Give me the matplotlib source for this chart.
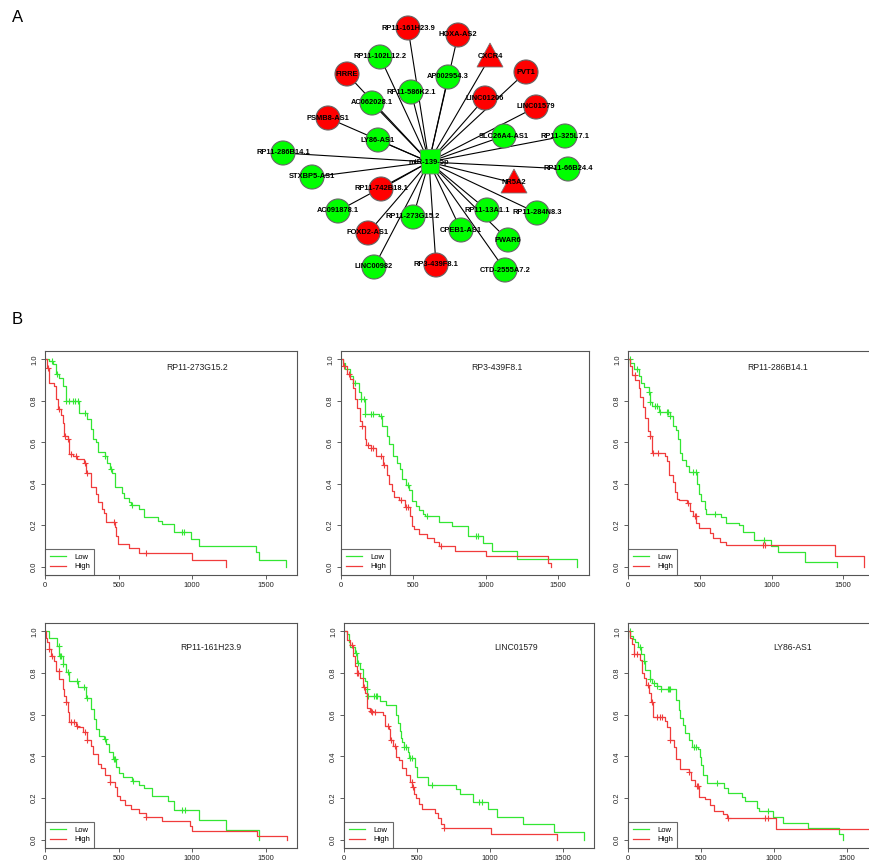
import matplotlib
matplotlib.use('Agg')
import matplotlib.pyplot as plt
import numpy as np
from matplotlib.patches import Circle, Polygon

plt.rcParams['font.family'] = ['Liberation Sans', 'DejaVu Sans']

# ---------------- network (A) ----------------
hub_name = 'miR-139-5p'
hub_xy = (429, 162)
node_names = ['RP11-161H23.9', 'HOXA-AS2', 'CXCR4', 'RP11-102L12.2', 'FIRRE', 'AP002954.3',
              'PVT1', 'RP11-586K2.1', 'LINC01206', 'AC062028.1', 'LINC01579', 'PSMB8-AS1',
              'LY86-AS1', 'SLC26A4-AS1', 'RP11-325L7.1', 'RP11-286B14.1', 'STXBP5-AS1',
              'RP11-66B24.4', 'NR5A2', 'RP11-742B18.1', 'AC091878.1', 'RP11-273G15.2',
              'RP11-13A1.1', 'RP11-284N8.3', 'FOXD2-AS1', 'CPEB1-AS1', 'PWAR6', 'LINC00982',
              'RP3-439F8.1', 'CTD-2555A7.2']
node_x = [408, 458, 490, 380, 347, 448, 526, 411, 485, 372, 536, 328, 378, 504, 565,
          283, 312, 568, 514, 381, 338, 413, 487, 537, 368, 461, 508, 374, 436, 505]
node_y = [28, 35, 57, 57, 74, 77, 72, 92, 98, 103, 107, 118, 140, 136, 136,
          153, 177, 169, 183, 189, 211, 217, 210, 213, 233, 230, 240, 267, 265, 270]
node_up = ['up', 'up', 'up', 'down', 'up', 'down', 'up', 'down', 'up', 'down', 'up', 'up',
           'down', 'down', 'down', 'down', 'down', 'down', 'up', 'up', 'down', 'down',
           'down', 'down', 'up', 'down', 'down', 'down', 'up', 'down']
gene_nodes = ['CXCR4', 'NR5A2']

# ---------------- survival curves (B) ----------------
titles = ['RP11-273G15.2', 'RP3-439F8.1', 'RP11-286B14.1',
          'RP11-161H23.9', 'LINC01579', 'LY86-AS1']

# panel 1
p1_low_t = [29, 52, 75, 97, 120, 143, 233, 283, 312, 328, 346, 360, 409, 425, 441, 459, 477, 527,
            538, 572, 588, 640, 674, 771, 798, 878, 991, 1047, 1432, 1454, 1640]
p1_low_s = [0.99, 0.976, 0.93, 0.91, 0.87, 0.80, 0.743, 0.711, 0.663, 0.618, 0.599, 0.551, 0.535,
            0.50, 0.47, 0.454, 0.382, 0.355, 0.33, 0.31, 0.297, 0.278, 0.238, 0.222, 0.205, 0.165,
            0.133, 0.10, 0.069, 0.034, 0.0]
p1_low_c = [48, 79, 143, 165, 188, 206, 222, 274, 409, 448, 595, 930, 948]
p1_high_t = [14, 29, 63, 75, 86, 109, 120, 131, 154, 161, 192, 215, 267, 278, 312, 346, 362, 387,
             403, 418, 477, 486, 498, 568, 640, 1002, 1228]
p1_high_s = [0.96, 0.888, 0.87, 0.807, 0.76, 0.73, 0.695, 0.631, 0.615, 0.543, 0.535, 0.52, 0.50,
             0.454, 0.382, 0.35, 0.31, 0.28, 0.258, 0.217, 0.19, 0.149, 0.109, 0.088, 0.064, 0.032, 0.0]
p1_high_c = [18, 93, 138, 156, 176, 210, 274, 283, 470, 690]

# panel 2
p2_low_t = [16, 27, 61, 84, 125, 141, 164, 261, 284, 316, 334, 357, 384, 407, 425, 448, 470, 493,
            516, 539, 566, 584, 675, 766, 880, 982, 1046, 1216, 1630]
p2_low_s = [0.98, 0.952, 0.92, 0.888, 0.843, 0.807, 0.735, 0.727, 0.676, 0.631, 0.59, 0.535, 0.50,
            0.47, 0.422, 0.393, 0.37, 0.318, 0.294, 0.274, 0.254, 0.245, 0.217, 0.197, 0.15, 0.115,
            0.075, 0.035, 0.0]
p2_low_c = [95, 141, 157, 168, 209, 220, 273, 466, 596, 936, 948]
p2_high_t = [11, 39, 61, 84, 95, 111, 130, 148, 164, 175, 209, 239, 289, 316, 330, 352, 368, 402,
             443, 477, 493, 505, 539, 596, 641, 675, 789, 1005, 1430, 1448]
p2_high_s = [0.97, 0.927, 0.904, 0.863, 0.807, 0.767, 0.703, 0.676, 0.615, 0.585, 0.57, 0.535,
             0.49, 0.44, 0.40, 0.366, 0.334, 0.32, 0.29, 0.245, 0.197, 0.18, 0.16, 0.14, 0.12,
             0.10, 0.075, 0.05, 0.02, 0.0]
p2_high_c = [23, 57, 148, 186, 209, 220, 277, 300, 414, 448, 466, 693]

# panel 3
p3_low_t = [16, 39, 74, 90, 108, 143, 150, 166, 217, 293, 316, 334, 350, 362, 378, 403, 426, 482,
            495, 507, 535, 546, 650, 680, 772, 800, 880, 995, 1048, 1233, 1456]
p3_low_s = [0.984, 0.951, 0.918, 0.885, 0.866, 0.844, 0.795, 0.774, 0.746, 0.725, 0.68, 0.659,
            0.615, 0.549, 0.516, 0.484, 0.456, 0.40, 0.352, 0.315, 0.279, 0.254, 0.238, 0.213,
            0.20, 0.169, 0.128, 0.10, 0.07, 0.025, 0.0]
p3_low_c = [12, 62, 143, 154, 189, 200, 223, 270, 281, 293, 454, 472, 604, 949]
p3_high_t = [12, 28, 51, 74, 85, 104, 120, 136, 154, 166, 258, 274, 288, 316, 327, 343, 357, 412,
             431, 454, 477, 495, 574, 592, 643, 684, 1440, 1643]
p3_high_s = [0.967, 0.926, 0.902, 0.861, 0.82, 0.77, 0.718, 0.656, 0.631, 0.549, 0.533, 0.508,
             0.443, 0.41, 0.361, 0.328, 0.32, 0.307, 0.27, 0.246, 0.213, 0.189, 0.164, 0.139,
             0.12, 0.105, 0.05, 0.0]
p3_high_c = [46, 154, 177, 212, 419, 465, 472, 938, 956]

# panel 4
p4_low_t = [30, 80, 98, 120, 143, 161, 223, 280, 314, 330, 348, 366, 398, 416, 434, 461, 480, 502,
            530, 593, 639, 671, 730, 836, 875, 1048, 1230, 1457]
p4_low_s = [0.97, 0.93, 0.883, 0.843, 0.803, 0.763, 0.731, 0.68, 0.627, 0.579, 0.531, 0.499,
            0.483, 0.459, 0.419, 0.387, 0.347, 0.318, 0.299, 0.283, 0.264, 0.246, 0.211, 0.187,
            0.142, 0.096, 0.046, 0.0]
p4_low_c = [93, 102, 109, 120, 155, 216, 268, 284, 405, 466, 473, 598, 934, 950]
p4_high_t = [7, 14, 30, 41, 64, 75, 98, 120, 132, 143, 155, 166, 211, 223, 257, 284, 314, 325, 359,
             382, 405, 439, 473, 489, 507, 541, 586, 639, 689, 798, 989, 1002, 1439, 1643]
p4_high_s = [0.97, 0.947, 0.915, 0.88, 0.859, 0.811, 0.771, 0.723, 0.691, 0.659, 0.611, 0.563,
             0.547, 0.54, 0.515, 0.48, 0.451, 0.411, 0.363, 0.342, 0.31, 0.275, 0.251, 0.211,
             0.192, 0.168, 0.147, 0.126, 0.11, 0.088, 0.067, 0.043, 0.019, 0.0]
p4_high_c = [30, 45, 93, 143, 177, 200, 216, 275, 284, 443, 689]

# panel 5
p5_low_t = [18, 36, 41, 75, 91, 109, 127, 143, 155, 161, 245, 286, 359, 370, 382, 389, 400, 409,
            439, 446, 484, 500, 575, 768, 796, 882, 984, 1052, 1227, 1439, 1643]
p5_low_s = [0.985, 0.947, 0.923, 0.898, 0.85, 0.821, 0.777, 0.761, 0.721, 0.692, 0.665, 0.645,
            0.60, 0.56, 0.52, 0.49, 0.47, 0.447, 0.42, 0.394, 0.35, 0.30, 0.261, 0.242, 0.221,
            0.181, 0.145, 0.108, 0.073, 0.035, 0.0]
p5_low_c = [82, 98, 155, 166, 205, 218, 227, 411, 423, 455, 468, 605, 927, 946]
p5_high_t = [23, 41, 59, 75, 91, 109, 127, 143, 159, 177, 189, 268, 280, 309, 318, 336, 359, 377,
             400, 423, 450, 468, 477, 491, 514, 536, 621, 643, 666, 689, 1007, 1462]
p5_high_s = [0.96, 0.935, 0.882, 0.834, 0.80, 0.777, 0.734, 0.705, 0.632, 0.62, 0.611, 0.60,
             0.544, 0.53, 0.479, 0.45, 0.398, 0.384, 0.342, 0.31, 0.277, 0.253, 0.221, 0.20,
             0.173, 0.145, 0.127, 0.105, 0.076, 0.055, 0.027, 0.0]
p5_high_c = [52, 91, 98, 136, 182, 189, 211, 302, 325, 348, 464, 473, 689]

# panel 6
p6_low_t = [16, 34, 50, 66, 89, 107, 119, 148, 164, 199, 226, 331, 347, 358, 377, 393, 416, 438,
            477, 491, 500, 514, 541, 655, 689, 781, 804, 884, 895, 993, 1062, 1237, 1450, 1473]
p6_low_s = [0.976, 0.965, 0.947, 0.924, 0.892, 0.859, 0.815, 0.77, 0.751, 0.74, 0.722, 0.67,
            0.622, 0.582, 0.55, 0.513, 0.478, 0.445, 0.437, 0.397, 0.357, 0.309, 0.272, 0.249,
            0.223, 0.204, 0.188, 0.151, 0.137, 0.108, 0.08, 0.055, 0.027, 0.0]
p6_low_c = [11, 80, 107, 148, 176, 199, 226, 272, 281, 290, 450, 468, 610, 963]
p6_high_t = [11, 27, 43, 80, 96, 107, 126, 142, 160, 169, 256, 267, 285, 313, 331, 358, 416, 431,
             461, 484, 530, 564, 587, 651, 678, 1016, 1700]
p6_high_s = [0.968, 0.94, 0.89, 0.863, 0.802, 0.775, 0.743, 0.703, 0.662, 0.587, 0.57, 0.539,
             0.478, 0.445, 0.389, 0.338, 0.325, 0.285, 0.256, 0.207, 0.193, 0.167, 0.14, 0.124,
             0.105, 0.051, 0.051]
p6_high_c = [43, 62, 135, 164, 199, 221, 233, 290, 420, 473, 477, 689, 941, 959]

panels = [
    (p1_low_t, p1_low_s, p1_low_c, p1_high_t, p1_high_s, p1_high_c),
    (p2_low_t, p2_low_s, p2_low_c, p2_high_t, p2_high_s, p2_high_c),
    (p3_low_t, p3_low_s, p3_low_c, p3_high_t, p3_high_s, p3_high_c),
    (p4_low_t, p4_low_s, p4_low_c, p4_high_t, p4_high_s, p4_high_c),
    (p5_low_t, p5_low_s, p5_low_c, p5_high_t, p5_high_s, p5_high_c),
    (p6_low_t, p6_low_s, p6_low_c, p6_high_t, p6_high_s, p6_high_c),
]
title_x = [1034, 1079, 1045, 1129, 1180, 1130]
title_y = [0.96, 0.96, 0.96, 0.92, 0.92, 0.92]

W, H = 869, 867
fig = plt.figure(figsize=(W / 100, H / 100), dpi=100)

# whole-figure canvas in pixel units for the network and panel letters
ax0 = fig.add_axes([0, 0, 1, 1])
ax0.set_xlim(0, W)
ax0.set_ylim(H, 0)
ax0.axis('off')

ax0.text(12, 18, 'A', fontsize=12, va='center', ha='left')
ax0.text(12, 320, 'B', fontsize=12, va='center', ha='left')

hx, hy = hub_xy
for x, y in zip(node_x, node_y):
    ax0.plot([hx, x], [hy, y], color='black', lw=0.8, zorder=1)

red = '#FF0000'
green = '#00FF00'
for name, x, y, up in zip(node_names, node_x, node_y, node_up):
    col = red if up == 'up' else green
    if name in gene_nodes:
        shape = Polygon([(x, y - 14), (x - 13, y + 10), (x + 13, y + 10)], closed=True,
                        facecolor=col, edgecolor='#777777', lw=0.6, zorder=2)
    else:
        shape = Circle((x, y), 12, facecolor=col, edgecolor='#666666', lw=0.8, zorder=2)
    ax0.add_patch(shape)
    ax0.text(x, y, name, fontsize=5.4, fontweight='bold', ha='center', va='center', zorder=3)

hub = Polygon([(hx - 9, hy - 12), (hx + 12, hy - 13), (hx + 10, hy + 12), (hx - 7, hy + 12)],
              closed=True, facecolor=green, edgecolor='#777777', lw=0.6, zorder=2)
ax0.add_patch(hub)
ax0.text(hx, hy, hub_name, fontsize=5.4, fontweight='bold', ha='center', va='center', zorder=3)

# KM panels
positions = [
    [45 / W, 1 - 575 / H, 252 / W, 224 / H],
    [341 / W, 1 - 575 / H, 248 / W, 224 / H],
    [628 / W, 1 - 575 / H, 246 / W, 224 / H],
    [45 / W, 1 - 848 / H, 252 / W, 225 / H],
    [344 / W, 1 - 848 / H, 250 / W, 225 / H],
    [628 / W, 1 - 848 / H, 250 / W, 225 / H],
]
low_col = '#33E633'
high_col = '#F03C3C'


def km(ax, t, s, cens, color, label):
    T = np.array([0] + list(t))
    S = np.array([1.0] + list(s))
    ax.step(T, S, where='post', color=color, lw=0.9, label=label)
    c = np.array(cens)
    idx = np.searchsorted(T, c, side='right') - 1
    ax.plot(c, S[idx], ls='none', marker='+', ms=5, mew=0.8, color=color)


for i, (pos, data) in enumerate(zip(positions, panels)):
    ax = fig.add_axes(pos)
    lt, ls_, lc, ht, hs, hc = data
    km(ax, lt, ls_, lc, low_col, 'Low')
    km(ax, ht, hs, hc, high_col, 'High')
    ax.set_xlim(0, 1714)
    ax.set_ylim(-0.04, 1.04)
    ax.set_xticks([0, 500, 1000, 1500])
    ax.set_yticks([0.0, 0.2, 0.4, 0.6, 0.8, 1.0])
    ax.set_yticklabels(['0.0', '0.2', '0.4', '0.6', '0.8', '1.0'], rotation=90, va='center')
    ax.tick_params(labelsize=5.5, length=3, width=0.6, color='#444444', labelcolor='#222222', pad=2)
    for sp in ax.spines.values():
        sp.set_color('#555555')
        sp.set_linewidth(0.8)
    ax.text(title_x[i], title_y[i], titles[i], fontsize=6.2, ha='center', va='center', color='#222222')
    leg = ax.legend(loc='lower left', fontsize=5.5, fancybox=False, frameon=True,
                    borderaxespad=0, handlelength=2.2, labelspacing=0.3, borderpad=0.6,
                    handletextpad=1.0)
    leg.get_frame().set_edgecolor('#444444')
    leg.get_frame().set_linewidth(0.8)

plt.savefig('out.png', dpi=100)
